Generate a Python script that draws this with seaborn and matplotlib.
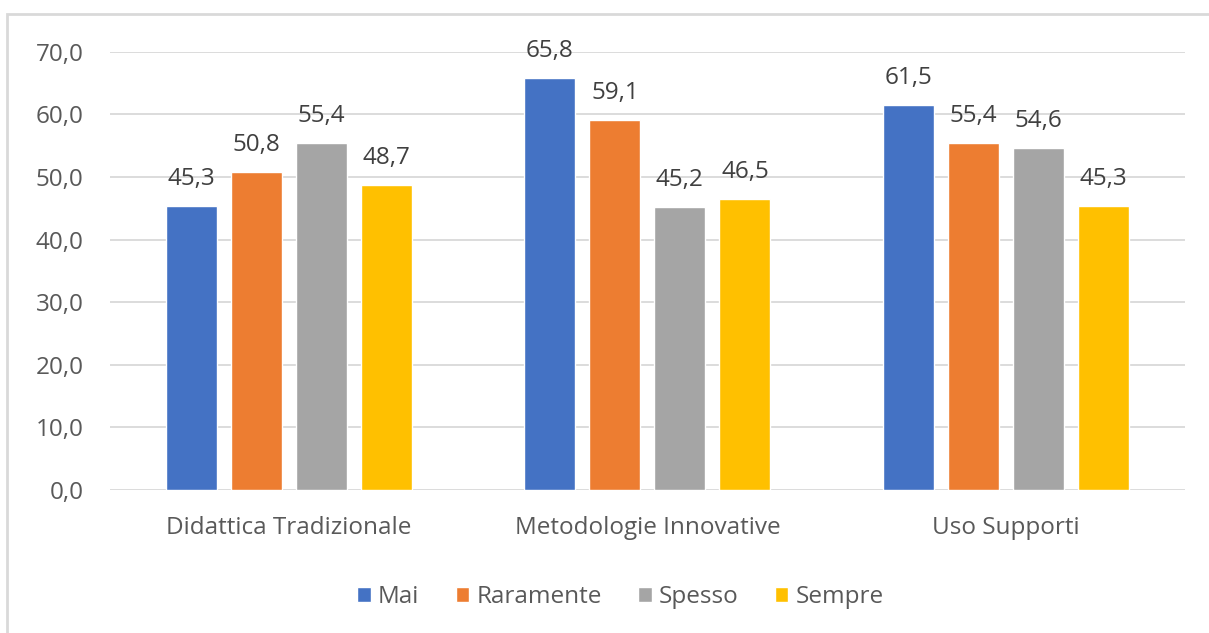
import matplotlib
matplotlib.use("Agg")
import matplotlib.pyplot as plt
from matplotlib.patches import Rectangle
import seaborn as sns
import pandas as pd

categories = ["Didattica Tradizionale", "Metodologie Innovative", "Uso Supporti"]
series = ["Mai", "Raramente", "Spesso", "Sempre"]
mai = [45.3, 65.8, 61.5]
raramente = [50.8, 59.1, 55.4]
spesso = [55.4, 45.2, 54.6]
sempre = [48.7, 46.5, 45.3]
colors = ["#4472C4", "#ED7D31", "#A5A5A5", "#FFC000"]
yticks = [0, 10, 20, 30, 40, 50, 60, 70]

rows = []
for name, vals in zip(series, [mai, raramente, spesso, sempre]):
    for cat, v in zip(categories, vals):
        rows.append({"Categoria": cat, "Frequenza": name, "Valore": v})
df = pd.DataFrame(rows)

sns.set_theme(style="white")
plt.rcParams["font.family"] = ["Open Sans", "DejaVu Sans"]
FS = 17.5

fig = plt.figure(figsize=(12.09, 6.33), dpi=100)
fig.patch.set_facecolor("white")
ax = fig.add_axes([0.091, 0.226, 0.889, 0.692])

# outer chart frame
fig.patches.append(Rectangle((7 / 1209, -0.05), 1.1, 1 - 14 / 633 + 0.05,
                             transform=fig.transFigure, facecolor="white",
                             edgecolor="#D9D9D9", linewidth=2, zorder=-1))

sns.barplot(data=df, x="Categoria", y="Valore", hue="Frequenza",
            hue_order=series, order=categories, palette=colors,
            width=0.726, gap=0.215, saturation=1, ax=ax, zorder=3)

ax.set_ylim(0, 70)
ax.set_xlim(-0.5, 2.5)
ax.set_yticks(yticks)
ax.set_yticklabels([f"{t:.1f}".replace(".", ",") for t in yticks],
                   color="#595959", fontsize=FS)
ax.tick_params(axis="x", colors="#595959", labelsize=FS, length=0, pad=19)
ax.tick_params(axis="y", length=0, pad=19)
ax.grid(axis="y", color="#D9D9D9", linewidth=1.3, zorder=0)
ax.set_axisbelow(True)
for s in ax.spines.values():
    s.set_visible(False)
ax.set_xlabel("")
ax.set_ylabel("")
ax.patch.set_alpha(0)

for cont in ax.containers:
    labels = [f"{b.get_height():.1f}".replace(".", ",") for b in cont]
    ax.bar_label(cont, labels=labels, padding=11, color="#404040", fontsize=FS)

leg = ax.legend(loc="center", bbox_to_anchor=(0.475, -0.244), ncol=4, frameon=False,
                fontsize=FS, handlelength=0.55, handleheight=0.55,
                handletextpad=0.3, columnspacing=1.5)
for t in leg.get_texts():
    t.set_color("#595959")

fig.savefig("out.png", dpi=100)
